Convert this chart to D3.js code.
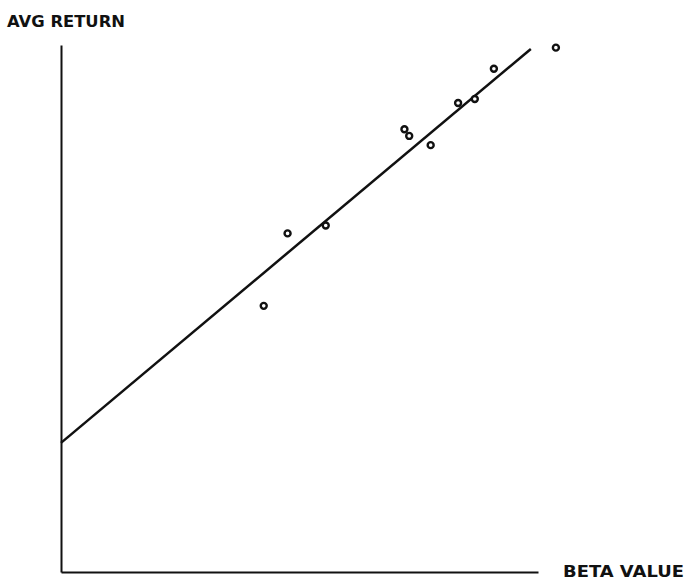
<!DOCTYPE html>
<html>
<head>
<meta charset="utf-8">
<script src="https://cdn.jsdelivr.net/npm/d3@7"></script>
<style>
  html, body { margin: 0; padding: 0; background: #fff; }
  svg { display: block; }
  .label { font-family: "DejaVu Sans", sans-serif; font-weight: bold; font-size: 15.5px; fill: #111; }
</style>
</head>
<body>
<svg id="chart" width="686" height="581"></svg>
<script>
// Portfolio beta vs. average return, with fitted security market line
const betaValues   = [0.85, 0.95, 1.11, 1.44, 1.46, 1.55, 1.665, 1.735, 1.815, 2.075];
const avgReturns   = [10.1, 12.85, 13.15, 16.8, 16.55, 16.2, 17.8, 17.95, 19.1, 19.9];
const fitBeta      = [0, 1.97];
const fitReturn    = [4.9, 19.85];
const xAxisTitle   = "BETA VALUE";
const yAxisTitle   = "AVG RETURN";

const svg = d3.select("#chart");
const margin = { left: 61, right: 148, top: 45, bottom: 9 };
const W = 686, H = 581;

const x = d3.scaleLinear().domain([0, 2]).range([margin.left, W - margin.right]);
const y = d3.scaleLinear().domain([0, 20]).range([H - margin.bottom, margin.top]);

// Axes: bare lines, no ticks
const xAxis = d3.axisBottom(x).tickValues([]).tickSizeOuter(0);
const yAxis = d3.axisLeft(y).tickValues([]).tickSizeOuter(0);

svg.append("g")
  .attr("transform", `translate(0,${y(0)})`)
  .call(xAxis)
  .call(g => g.select(".domain").attr("stroke", "#111").attr("stroke-width", 2));

svg.append("g")
  .attr("transform", `translate(${x(0)},0)`)
  .call(yAxis)
  .call(g => g.select(".domain").attr("stroke", "#111").attr("stroke-width", 2));

// Fitted line
const line = d3.line().x(d => x(d[0])).y(d => y(d[1]));
svg.append("path")
  .datum(d3.zip(fitBeta, fitReturn))
  .attr("d", line)
  .attr("fill", "none")
  .attr("stroke", "#111")
  .attr("stroke-width", 2.5);

// Observations
svg.append("g")
  .selectAll("circle")
  .data(d3.zip(betaValues, avgReturns))
  .join("circle")
  .attr("cx", d => x(d[0]))
  .attr("cy", d => y(d[1]))
  .attr("r", 3)
  .attr("fill", "#fff")
  .attr("stroke", "#111")
  .attr("stroke-width", 2.4);

// Axis titles
svg.append("text")
  .attr("class", "label")
  .attr("x", 7)
  .attr("y", 27)
  .attr("textLength", 118)
  .attr("lengthAdjust", "spacingAndGlyphs")
  .text(yAxisTitle);

svg.append("text")
  .attr("class", "label")
  .attr("x", 563)
  .attr("y", 577)
  .attr("textLength", 121)
  .attr("lengthAdjust", "spacingAndGlyphs")
  .text(xAxisTitle);
</script>
</body>
</html>
